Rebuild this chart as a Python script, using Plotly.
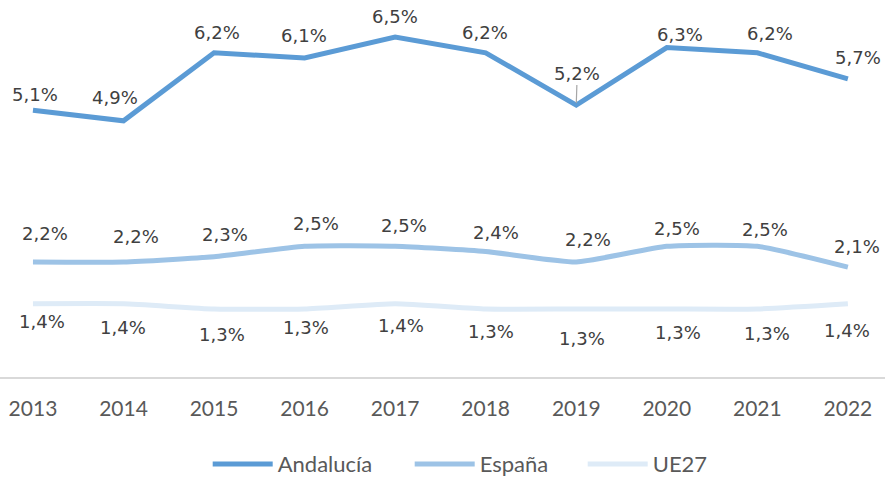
import plotly.graph_objects as go

years = [2013, 2014, 2015, 2016, 2017, 2018, 2019, 2020, 2021, 2022]
andalucia = [5.1, 4.9, 6.2, 6.1, 6.5, 6.2, 5.2, 6.3, 6.2, 5.7]
espana = [2.2, 2.2, 2.3, 2.5, 2.5, 2.4, 2.2, 2.5, 2.5, 2.1]
ue27 = [1.4, 1.4, 1.3, 1.3, 1.4, 1.3, 1.3, 1.3, 1.3, 1.4]

# label offsets in pixels (dx, dy) relative to each point
and_off = [(2, -16), (-9, -23), (3, -20), (-1, -23), (0, -21), (-1, -20), (1, -32), (13, -13), (13, -19), (10, -21)]
esp_off = [(12, -28), (12, -25), (11, -22), (11, -23), (9, -21), (10, -19), (12, -22), (10, -18), (8, -17), (9, -21)]
ue_off = [(9, 18), (-1, 24), (8, 25), (1, 18), (6, 22), (5, 22), (6, 29), (11, 23), (10, 24), (-1, 27)]

colors = {"Andalucía": "#5B9BD5", "España": "#9DC3E6", "UE27": "#DEEBF7"}

fig = go.Figure()
fig.add_trace(go.Scatter(x=years, y=andalucia, name="Andalucía", mode="lines", legendwidth=127,
                         line=dict(color=colors["Andalucía"], width=5)))
fig.add_trace(go.Scatter(x=years, y=espana, name="España", mode="lines", legendwidth=98,
                         line=dict(color=colors["España"], width=5, shape="spline", smoothing=0.5)))
fig.add_trace(go.Scatter(x=years, y=ue27, name="UE27", mode="lines", legendwidth=55,
                         line=dict(color=colors["UE27"], width=5, shape="spline", smoothing=0.5)))


def fmt(v):
    return f"{v:.1f}".replace(".", ",") + "%"


label_font = dict(family="DejaVu Sans", size=18, color="#404040")
for series, offs in ((andalucia, and_off), (espana, esp_off), (ue27, ue_off)):
    for yr, v, (dx, dy) in zip(years, series, offs):
        if series is andalucia and yr == 2019:
            fig.add_annotation(x=yr, y=v, text=fmt(v), showarrow=True, arrowhead=0,
                               arrowwidth=1.2, arrowcolor="#a6a6a6", ax=dx, ay=dy,
                               standoff=2, font=label_font)
        else:
            fig.add_annotation(x=yr, y=v, text=fmt(v), showarrow=False,
                               xshift=dx, yshift=-dy, font=label_font)

fig.update_layout(
    width=885, height=478,
    margin=dict(l=0, r=0, t=0, b=101, autoexpand=False),
    plot_bgcolor="white", paper_bgcolor="white",
    showlegend=True,
    legend=dict(orientation="h", x=0.52, xanchor="center", y=-0.231, yanchor="middle",
                font=dict(family="Lato", size=22, color="#595959"),
                itemwidth=60, tracegroupgap=0),
    xaxis=dict(range=[2012.636, 2022.41], tickvals=years, ticktext=[str(y) for y in years],
               showgrid=False, zeroline=False, showline=True, linecolor="#d9d9d9", linewidth=2,
               ticks="", ticklabelstandoff=12,
               tickfont=dict(family="Lato", size=21, color="#595959")),
    yaxis=dict(range=[0, 7.21], visible=False, showgrid=False, zeroline=False),
)

fig.write_html("out.html", config={"displayModeBar": False},
               post_script="document.body.style.margin='0';")
